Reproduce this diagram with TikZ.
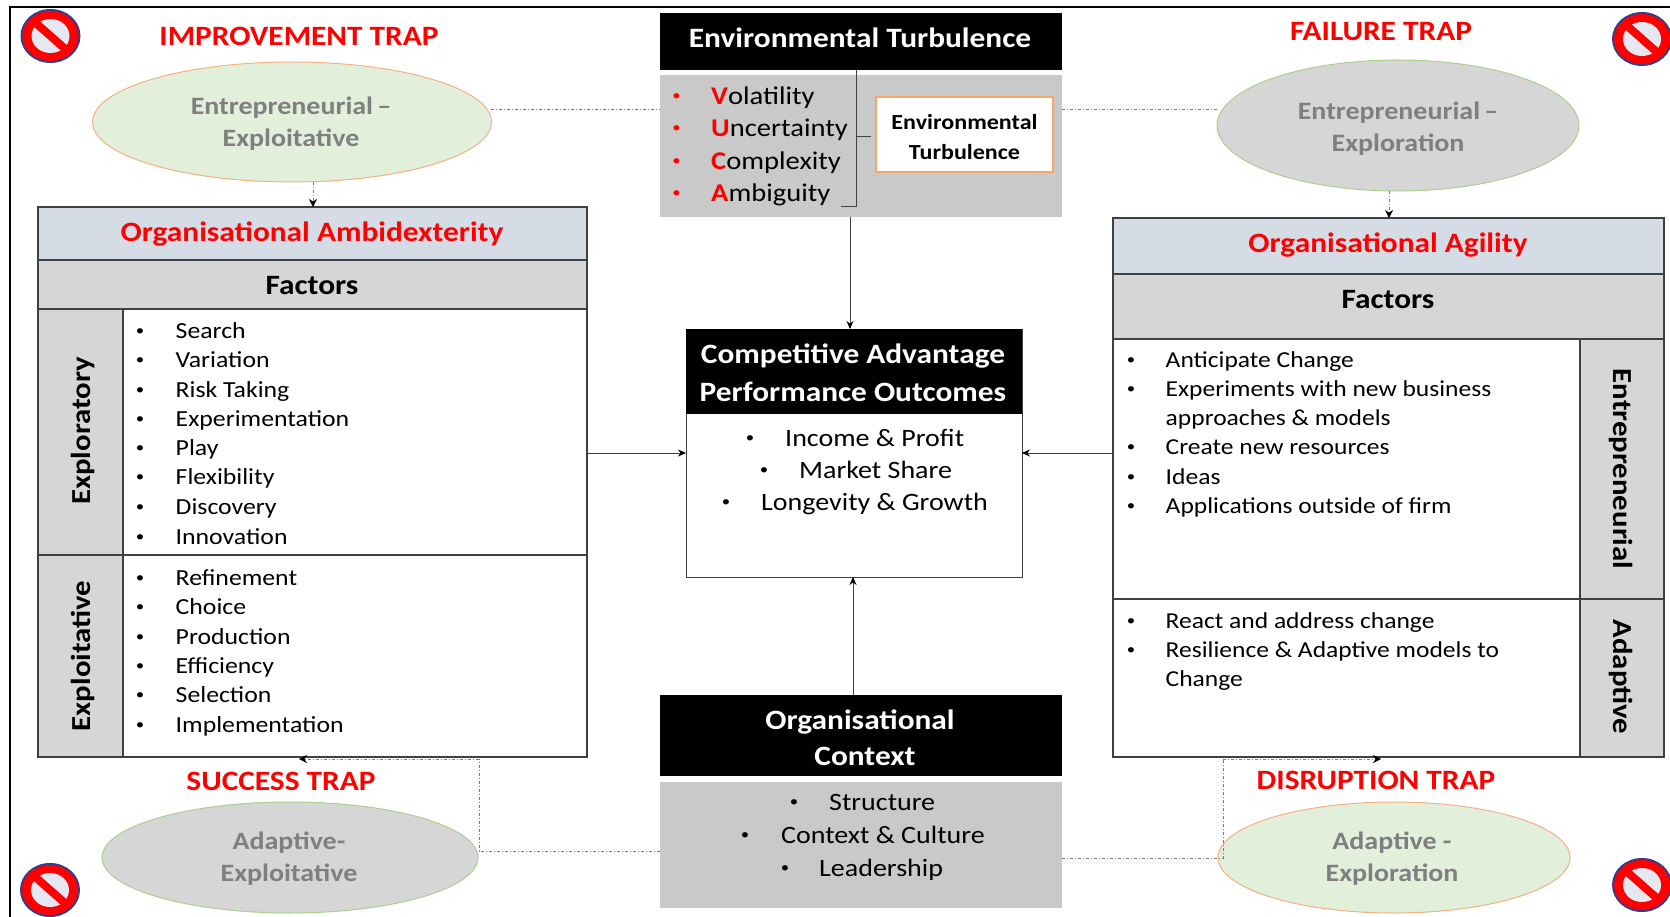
\documentclass[tikz,border=0pt]{standalone}
\usepackage{fontspec}
\setmainfont{Carlito}[FakeStretch=1.12]
\usetikzlibrary{shapes.geometric,arrows.meta}
\definecolor{hdrblue}{HTML}{D6DCE5}
\definecolor{panelgrey}{HTML}{D6D6D6}
\definecolor{midgrey}{HTML}{C9C9C9}
\definecolor{ovalgreen}{HTML}{E2EFDA}
\definecolor{ovalorange}{HTML}{F4B183}
\definecolor{ovalline}{HTML}{A9D18E}
\definecolor{linegrey}{HTML}{404040}
\definecolor{ovaltext}{HTML}{7F7F7F}
\definecolor{trapred}{HTML}{FF0000}
\definecolor{signblue}{HTML}{2F3F8F}
\newcommand{\fs}[1]{\fontsize{#1}{#1}\selectfont}
\newcommand{\rd}[1]{\textcolor{trapred}{#1}}
\tikzset{
  x=1pt,y=-1pt,
  rbox/.style={anchor=north west,inner sep=0pt,outer sep=0pt,draw=linegrey,line width=1.5pt},
  flat/.style={anchor=north west,inner sep=0pt,outer sep=0pt},
  trap/.style={font=\fs{28}\bfseries,text=trapred,inner sep=0pt},
  oval/.style={ellipse,inner sep=0pt,outer sep=0pt,line width=1pt},
  ovaltxt/.style={inner sep=0pt,align=center,font=\fs{25}\bfseries,text=ovaltext},
  hdr/.style={font=\fs{28}\bfseries,inner sep=0pt},
  listtxt/.style={anchor=west,inner sep=0pt,font=\fs{23},text height=16.4pt,text depth=0pt,yshift=.8pt},
  bigtxt/.style={anchor=west,inner sep=0pt,font=\fs{25.5},text height=19pt,text depth=0pt,yshift=1pt},
  compbtxt/.style={anchor=west,inner sep=0pt,font=\fs{25},text height=18pt,text depth=0pt,yshift=1pt},
  bul/.style={inner sep=0pt,font=\fs{15},yshift=-1pt},
  wtxt/.style={font=\fs{28}\bfseries,text=white,inner sep=0pt},
  dd/.style={line width=.7pt,draw=linegrey!70,dash pattern=on 3pt off 2pt on 1pt off 2pt},
  solidarrow/.style={line width=.9pt,draw=linegrey,-{Stealth[length=8pt,width=7pt,black]}},
  ddarrow/.style={dd,-{Stealth[length=8pt,width=8pt,black]}},
  noentry/.pic={
    \fill[signblue] (0,0) ellipse [x radius=30,y radius=27];
    \fill[trapred] (0,0) ellipse [x radius=28,y radius=25];
    \fill[white!88!signblue] (0,0) ellipse [x radius=19,y radius=17];
    \draw[trapred,line width=8pt] (-17,-15) -- (17,15);
  }
}
\begin{document}
\begin{tikzpicture}
\useasboundingbox (0,0) rectangle (1670,917);
\fill[white] (0,0) rectangle (1670,917);
% outer frame
\coordinate (fbl) at (10,917); \coordinate (ftl) at (10,7); \coordinate (ftr) at (1670,7);
\draw[black,line width=1.5pt] (fbl) -- (ftl) -- (ftr);
% signs
\pic at (50.5,36) {noentry};
\pic at (1642,39) {noentry};
\pic at (50,890) {noentry};
\pic at (1642,885) {noentry};
% trap titles
\node[trap] (t1) at (299,36) {IMPROVEMENT TRAP};
\node[trap] (t2) at (1381,32) {FAILURE TRAP};
\node[trap] (t3) at (281,781) {SUCCESS TRAP};
\node[trap] (t4) at (1376,780) {DISRUPTION TRAP};
% ovals
\node[oval,fill=ovalgreen,draw=ovalorange,minimum width=399pt,minimum height=120pt] (oTL) at (292,122) {};
\node[ovaltxt] (oTLa) at (291,107.5) {Entrepreneurial\,–};
\node[ovaltxt] (oTLb) at (291,140) {Exploitative};
\node[oval,fill=panelgrey,draw=ovalline,minimum width=362pt,minimum height=131pt] (oTR) at (1398,125.5) {};
\node[ovaltxt] (oTRa) at (1398,113) {Entrepreneurial\,–};
\node[ovaltxt] (oTRb) at (1398,145) {Exploration};
\node[oval,fill=panelgrey,draw=ovalline,minimum width=376pt,minimum height=111pt] (oBL) at (290,857.5) {};
\node[ovaltxt] (oBLa) at (289,843) {Adaptive-};
\node[ovaltxt] (oBLb) at (289,875) {Exploitative};
\node[oval,fill=ovalgreen,draw=ovalorange,minimum width=352pt,minimum height=111pt] (oBR) at (1394,857.5) {};
\node[ovaltxt] (oBRa) at (1392,843) {Adaptive -};
\node[ovaltxt] (oBRb) at (1392,875) {Exploration};
% left panel
\node[rbox,fill=white,minimum width=549pt,minimum height=550pt] (amb) at (38,207) {};
\node[rbox,fill=hdrblue,minimum width=549pt,minimum height=53pt] (ambT) at (38,207) {};
\node[hdr,text=trapred] (ambTt) at (312,234) {Organisational Ambidexterity};
\node[rbox,fill=panelgrey,minimum width=549pt,minimum height=49pt] (ambF) at (38,260) {};
\node[hdr,font=\fs{28}\bfseries] (ambFt) at (312,286) {Factors};
\node[rbox,fill=panelgrey,minimum width=85pt,minimum height=246pt] (ambX) at (38,309) {};
\node[rbox,fill=white,minimum width=464pt,minimum height=246pt] (ambXb) at (123,309) {};
\node[rbox,fill=panelgrey,minimum width=85pt,minimum height=202pt] (ambI) at (38,555) {};
\node[rbox,fill=white,minimum width=464pt,minimum height=202pt] (ambIb) at (123,555) {};
\node[rotate=90,inner sep=0pt,font=\fs{27.5}\bfseries] (ambXt) at (83,431) {Exploratory};
\node[rotate=90,inner sep=0pt,font=\fs{27.5}\bfseries] (ambIt) at (83,656) {Exploitative};
\foreach \y/\t [count=\i] in {331/Search,360/Variation,390/Risk Taking,419/Experimentation,448/Play,477/Flexibility,507/Discovery,537/Innovation,578/Refinement,607/Choice,637/Production,666/Efficiency,695/Selection,725/Implementation}{
  \node[bul] (lb\i) at (140,\y) {•};
  \node[listtxt] (lt\i) at (175.5,\y) {\t};
}
% right panel
\node[rbox,fill=white,minimum width=551pt,minimum height=539pt] (agi) at (1113,218) {};
\node[rbox,fill=hdrblue,minimum width=551pt,minimum height=56pt] (agiT) at (1113,218) {};
\node[hdr,text=trapred] (agiTt) at (1388,245) {Organisational Agility};
\node[rbox,fill=panelgrey,minimum width=551pt,minimum height=65pt] (agiF) at (1113,274) {};
\node[hdr,font=\fs{28}\bfseries] (agiFt) at (1388,300) {Factors};
\node[rbox,fill=white,minimum width=467pt,minimum height=260pt] (agiEb) at (1113,339) {};
\node[rbox,fill=panelgrey,minimum width=84pt,minimum height=260pt] (agiE) at (1580,339) {};
\node[rbox,fill=white,minimum width=467pt,minimum height=158pt] (agiAb) at (1113,599) {};
\node[rbox,fill=panelgrey,minimum width=84pt,minimum height=158pt] (agiA) at (1580,599) {};
\node[rotate=-90,inner sep=0pt,font=\fs{27.5}\bfseries] (agiEt) at (1621,469) {Entrepreneurial};
\node[rotate=-90,inner sep=0pt,font=\fs{27.5}\bfseries] (agiAt) at (1621,677) {Adaptive};
\foreach \y/\t [count=\i] in {360/Anticipate Change,389/Experiments with new business,418/approaches \& models,447/Create new resources,477/Ideas,506/Applications outside of firm,621/React and address change,650/Resilience \& Adaptive models to,679/Change}{
  \node[listtxt,font=\fs{22.8}] (rt\i) at (1165.5,\y) {\t};
}
\foreach \y [count=\i] in {360,389,447,477,506,621,650}{
  \node[bul] (rb\i) at (1131,\y) {•};
}
% environmental turbulence
\node[flat,fill=black,minimum width=402pt,minimum height=57pt] (envH) at (660,13) {};
\node[wtxt] (envHt) at (860,38) {Environmental Turbulence};
\node[flat,fill=midgrey,minimum width=402pt,minimum height=142pt] (envG) at (660,75) {};
\foreach \y/\a/\r [count=\i] in {96/V/olatility,128/U/ncertainty,161/C/omplexity,193/A/mbiguity}{
  \node[bul,text=trapred] (vb\i) at (676.5,\y) {•};
  \node[bigtxt] (vt\i) at (711,\y) {\rd{\bfseries\a}\r};
}
\node[flat,fill=white,draw=ovalorange!80!orange,line width=1.5pt,minimum width=177pt,minimum height=75pt] (envB) at (876,97) {};
\node[inner sep=0pt,font=\fs{21.5}\bfseries] (envBa) at (964.5,122) {Environmental};
\node[inner sep=0pt,font=\fs{21.5}\bfseries] (envBb) at (964.5,152) {Turbulence};
% brace
\coordinate (brT) at (856,70);
\coordinate (brB) at (856,206);
\coordinate (brE) at (841,206);
\coordinate (brM) at (856,136);
\coordinate (brR) at (871,136);
\draw[linegrey,line width=.9pt] (brT) -- (brB) -- (brE);
\draw[linegrey,line width=.9pt] (brM) -- (brR);
% competitive advantage
\node[rbox,fill=white,minimum width=336pt,minimum height=248pt,line width=.9pt] (compB) at (686,329) {};
\node[flat,fill=black,minimum width=336pt,minimum height=85pt] (compH) at (686,329) {};
\node[wtxt] (compH1) at (853,356.5) {Competitive Advantage};
\node[wtxt] (compH2) at (853,392) {Performance Outcomes};
\foreach \y/\bx/\tx/\t [count=\i] in {438/750/785/Income \& Profit,470/764/799/Market Share,502/726/761/Longevity \& Growth}{
  \node[bul] (cb\i) at (\bx,\y) {•};
  \node[compbtxt] (ct\i) at (\tx,\y) {\t};
}
% organisational context
\node[flat,fill=black,minimum width=402pt,minimum height=81pt] (ctxH) at (660,695) {};
\node[wtxt] (ctxH1) at (860,722) {Organisational};
\node[wtxt] (ctxH2) at (865,756) {Context};
\node[flat,fill=midgrey,minimum width=402pt,minimum height=126pt] (ctxG) at (660,782) {};
\foreach \y/\bx/\tx/\t [count=\i] in {802/794/829/Structure,835/745/781/Context \& Culture,868/785/819/Leadership}{
  \node[bul] (xb\i) at (\bx,\y) {•};
  \node[compbtxt] (xt\i) at (\tx,\y) {\t};
}
% connectors
\coordinate (a1) at (850,217);
\coordinate (yA) at (0,453);
\coordinate (xU) at (853,0);
\coordinate (y1) at (0,109);
\draw[solidarrow] (envG.south -| a1) -- (compH.north -| a1);
\draw[solidarrow] (amb.east |- yA) -- (compB.west |- yA);
\draw[solidarrow] (agi.west |- yA) -- (compB.east |- yA);
\draw[solidarrow] (ctxH.north -| xU) -- (compB.south -| xU);
\coordinate (xTL) at (313,0);
\coordinate (xTR) at (1389,0);
\draw[ddarrow] (oTL.south -| xTL) -- (amb.north -| xTL);
\draw[ddarrow] (oTR.south -| xTR) -- (agi.north -| xTR);
\draw[dd] (oTL.east |- y1) ++(-1,0) -- (envG.west |- y1);
\draw[dd] (envG.east |- y1) -- (oTR.west |- y1);
% bottom connectors
\coordinate (yBL) at (0,851);
\coordinate (yBR) at (0,858);
\coordinate (jBL) at (479,851);
\coordinate (jBR) at (1223,858);
\coordinate (hBL) at (479,759);
\coordinate (hBR) at (1223,759);
\coordinate (tBL) at (299,759);
\coordinate (tBR) at (1381,759);
\draw[dd] (ctxG.west |- yBL) -- (jBL) -- (hBL);
\draw[ddarrow] (hBL) -- (tBL);
\draw[dd] (ctxG.east |- yBR) -- (jBR) -- (hBR);
\draw[ddarrow] (hBR) -- (tBR);
\end{tikzpicture}
\end{document}
